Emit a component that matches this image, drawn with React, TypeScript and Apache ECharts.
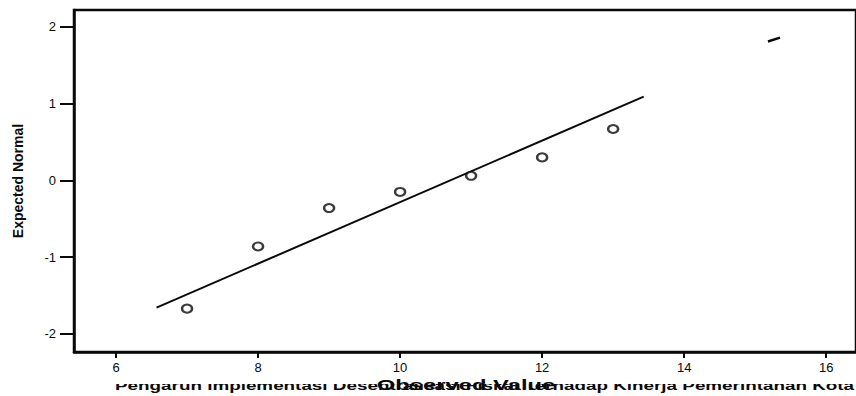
import React, { useEffect, useRef } from "react";
import * as echarts from "echarts";

// Observed values and expected normal values of the plotted points
const observed = [7, 8, 9, 10, 11, 12, 13];
const expectedNormal = [-1.67, -0.86, -0.36, -0.15, 0.06, 0.3, 0.67];

// Reference (normal) line end points
const lineX = [6.57, 13.43];
const lineY = [-1.657, 1.092];

// Small stray stroke in the upper right
const strokeX = [15.18, 15.35];
const strokeY = [1.81, 1.86];

const xTicks = [6, 8, 10, 12, 14, 16];
const yTicks = [-2, -1, 0, 1, 2];

const xTitle = "Observed Value";
const yTitle = "Expected Normal";
const footText =
  "Pengaruh Implementasi Desentralisasi Fiskal Terhadap Kinerja Pemerintahan Kota";

export default function App() {
  const ref = useRef<HTMLDivElement>(null);

  useEffect(() => {
    document.body.style.margin = "0";
    if (!ref.current) return;
    const chart = echarts.init(ref.current, undefined, { renderer: "svg" });
    const ink = "#0a0a0a";
    const font = "'Liberation Sans', Arial, sans-serif";

    chart.setOption({
      animation: false,
      backgroundColor: "#ffffff",
      grid: {
        left: 74,
        right: -3,
        top: 10,
        bottom: 44,
        show: true,
        borderColor: ink,
        borderWidth: 2.5,
        backgroundColor: "transparent",
      },
      xAxis: {
        type: "value",
        min: 5.408,
        max: 16.42,
        splitLine: { show: false },
        axisLine: { show: true, onZero: false, lineStyle: { color: ink, width: 2.5 } },
        axisTick: {
          show: true,
          inside: false,
          length: 6,
          customValues: xTicks,
          lineStyle: { color: ink, width: 2 },
        },
        axisLabel: {
          show: true,
          customValues: xTicks,
          margin: 9,
          color: ink,
          fontSize: 13,
          fontFamily: font,
        },
      },
      yAxis: {
        type: "value",
        min: -2.235,
        max: 2.22,
        splitLine: { show: false },
        axisLine: { show: true, onZero: false, lineStyle: { color: ink, width: 2.5 } },
        axisTick: {
          show: true,
          inside: false,
          length: 14,
          customValues: yTicks,
          lineStyle: { color: ink, width: 2 },
        },
        axisLabel: {
          show: true,
          customValues: yTicks,
          margin: 18,
          color: ink,
          fontSize: 13,
          fontFamily: font,
        },
      },
      series: [
        {
          type: "line",
          data: lineX.map((x, i) => [x, lineY[i]]),
          showSymbol: false,
          symbol: "none",
          lineStyle: { color: ink, width: 2 },
          z: 3,
        },
        {
          type: "line",
          data: strokeX.map((x, i) => [x, strokeY[i]]),
          showSymbol: false,
          symbol: "none",
          lineStyle: { color: ink, width: 2.5 },
          z: 3,
        },
        {
          type: "scatter",
          data: observed.map((x, i) => [x, expectedNormal[i]]),
          symbol: "circle",
          symbolSize: [10, 8],
          itemStyle: { color: "#ffffff", borderColor: ink, borderWidth: 2.2 },
          z: 4,
        },
      ],
      graphic: [
        {
          type: "text",
          x: 18,
          y: 181,
          rotation: Math.PI / 2,
          z: 10,
          style: {
            text: yTitle,
            fill: ink,
            font: `bold 14px ${font}`,
            align: "center",
            verticalAlign: "middle",
          },
        },
        {
          type: "text",
          x: 115,
          y: 385.5,
          scaleX: 1.45,
          z: 5,
          style: {
            text: footText,
            fill: ink,
            font: `bold 13px ${font}`,
            align: "left",
            verticalAlign: "middle",
          },
        },
        {
          type: "rect",
          shape: { x: 0, y: 374, width: 856, height: 10 },
          style: { fill: "#ffffff" },
          z: 8,
        },
        {
          type: "text",
          x: 466,
          y: 385,
          scaleX: 1.7,
          z: 20,
          style: {
            text: xTitle,
            fill: ink,
            font: `bold 14px ${font}`,
            align: "center",
            verticalAlign: "middle",
          },
        },
      ],
    });

    return () => chart.dispose();
  }, []);

  return <div ref={ref} style={{ width: 856, height: 396 }} />;
}
